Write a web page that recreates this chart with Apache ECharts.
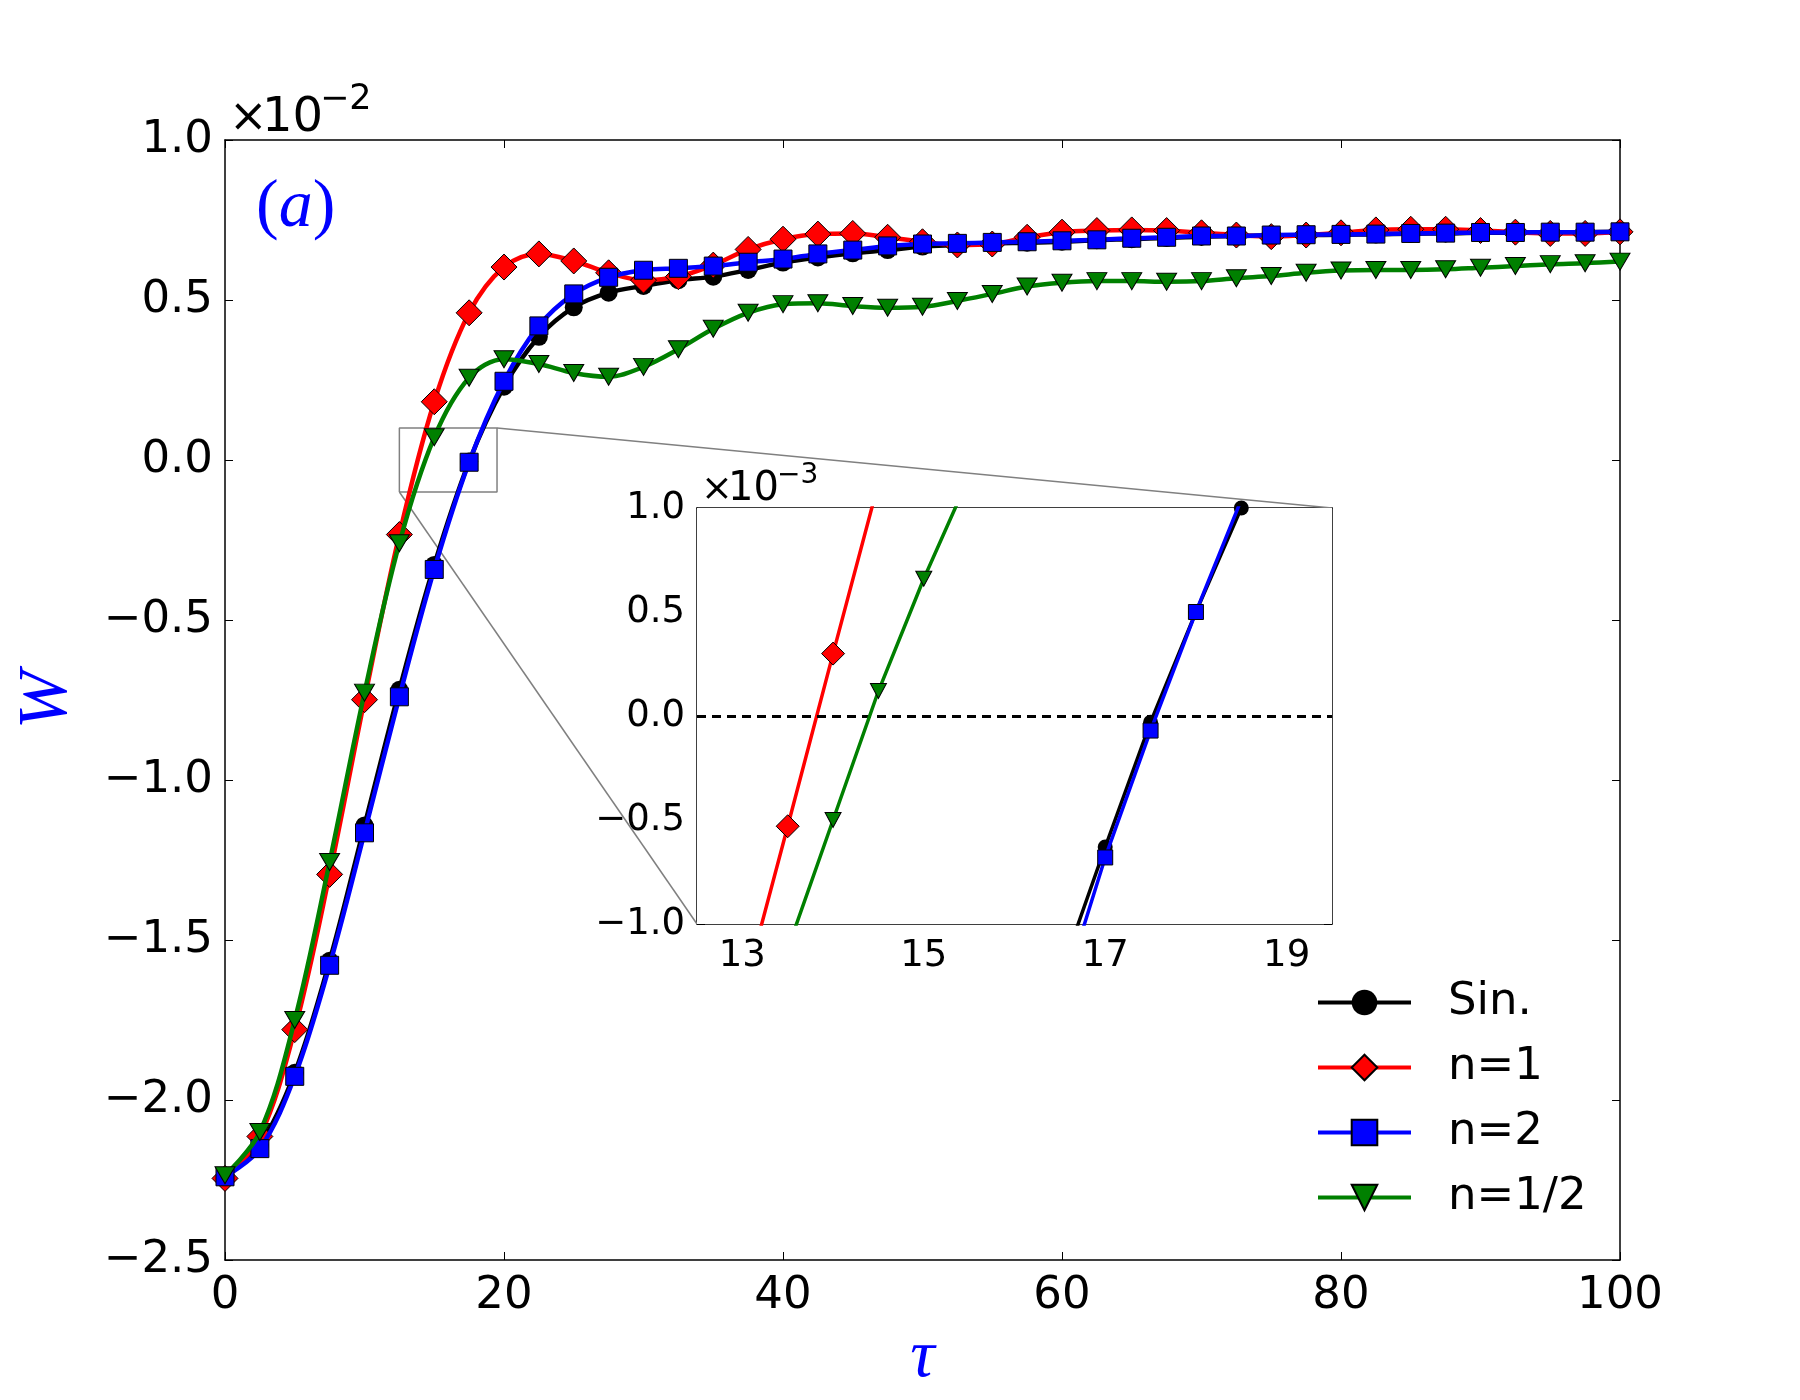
<!DOCTYPE html>
<html>
<head>
<meta charset="utf-8">
<script src="https://cdn.jsdelivr.net/npm/echarts@6/dist/echarts.min.js"></script>
<style>
  html, body { margin: 0; padding: 0; background: #fff; }
  #main { width: 1800px; height: 1400px; }
</style>
</head>
<body>
<div id="main"></div>
<script>
// time points carrying markers (every 2.5)
var tau = [0, 2.5, 5, 7.5, 10, 12.5, 15, 17.5, 20, 22.5, 25, 27.5, 30, 32.5, 35, 37.5, 40, 42.5, 45, 47.5,
  50, 52.5, 55, 57.5, 60, 62.5, 65, 67.5, 70, 72.5, 75, 77.5, 80, 82.5, 85, 87.5, 90, 92.5, 95, 97.5, 100]

// W in units of 1e-2
var wSin = [-2.24, -2.14, -1.915, -1.565, -1.142, -0.718, -0.328, -0.005, 0.229, 0.385, 0.477, 0.523, 0.544, 0.562,
  0.573, 0.594, 0.617, 0.633, 0.646, 0.656, 0.667, 0.672, 0.677, 0.679, 0.682, 0.687, 0.690, 0.694, 0.698, 0.700,
  0.702, 0.703, 0.704, 0.705, 0.707, 0.708, 0.710, 0.710, 0.711, 0.712, 0.713]
var wN1 = [-2.245, -2.114, -1.78, -1.295, -0.749, -0.233, 0.182, 0.46, 0.603, 0.644, 0.622, 0.585, 0.562, 0.573,
  0.609, 0.658, 0.69, 0.706, 0.708, 0.696, 0.682, 0.672, 0.675, 0.696, 0.712, 0.717, 0.719, 0.717, 0.71, 0.703,
  0.698, 0.703, 0.71, 0.719, 0.721, 0.721, 0.717, 0.712, 0.708, 0.708, 0.713]
var wN2 = [-2.24, -2.152, -1.926, -1.579, -1.165, -0.740, -0.342, -0.007, 0.246, 0.419, 0.519, 0.571, 0.593, 0.599,
  0.606, 0.618, 0.628, 0.644, 0.656, 0.669, 0.675, 0.677, 0.680, 0.682, 0.685, 0.688, 0.693, 0.696, 0.700, 0.700,
  0.703, 0.704, 0.705, 0.706, 0.708, 0.709, 0.711, 0.711, 0.712, 0.712, 0.713]
var wHalf = [-2.235, -2.10, -1.75, -1.256, -0.727, -0.26, 0.071, 0.257, 0.315, 0.30, 0.272, 0.26, 0.291, 0.346,
  0.41, 0.46, 0.487, 0.49, 0.481, 0.476, 0.479, 0.497, 0.519, 0.542, 0.554, 0.559, 0.559, 0.557, 0.559, 0.568,
  0.575, 0.585, 0.592, 0.594, 0.594, 0.596, 0.601, 0.606, 0.612, 0.615, 0.62]

// inset, W in units of 1e-3
var inTauSin = [16.5, 17, 17.5, 18, 18.5]
var inSin = [-1.25, -0.63, -0.03, 0.50, 1.0]
var inTauN1 = [13, 13.5, 14, 14.5]
var inN1 = [-1.35, -0.53, 0.30, 1.12]
var inTauN2 = [16.5, 17, 17.5, 18, 18.5]
var inN2 = [-1.38, -0.68, -0.07, 0.50, 1.04]
var inTauHalf = [13.5, 14, 14.5, 15, 15.5]
var inHalf = [-1.12, -0.50, 0.12, 0.66, 1.15]

var insetX = [12.5, 19.5]
var insetY = [-1.0, 1.0]
var insetXTicks = [13, 15, 17, 19]

var names = ['Sin.', 'n=1', 'n=2', 'n=1/2']
var colors = ['#000000', '#ff0000', '#0000ff', '#008000']
var symbols = ['circle', 'diamond', 'rect', 'triangle']

function pairs(xs, ys) {
    return xs.map(function (x, i) { return [x, ys[i]] })
}
function fmt(v) {
    return (v < 0 ? '\u2212' : '') + Math.abs(v).toFixed(1)
}

var font = 'DejaVu Sans'
var axisLineStyle = { color: '#000', width: 1.5 }

function xAx(grid, pos, min, max, labels, ticks, size) {
    var a = {
        type: 'value', gridIndex: grid, position: pos, min: min, max: max,
        axisLine: { show: true, onZero: false, lineStyle: axisLineStyle },
        axisTick: { show: true, inside: true, length: 8, lineStyle: { color: '#000', width: 1 } },
        axisLabel: { show: labels, fontSize: size, fontFamily: font, color: '#000', margin: 14 },
        splitLine: { show: false }
    }
    if (ticks) {
        a.axisTick.customValues = ticks
        a.axisLabel.customValues = ticks
    } else {
        a.interval = 20
    }
    return a
}
function yAx(grid, pos, min, max, labels, size) {
    return {
        type: 'value', gridIndex: grid, position: pos, min: min, max: max, interval: 0.5,
        axisLine: { show: true, onZero: false, lineStyle: axisLineStyle },
        axisTick: { show: true, inside: true, length: 8, lineStyle: { color: '#000', width: 1 } },
        axisLabel: { show: labels, fontSize: size, fontFamily: font, color: '#000', margin: 12, formatter: fmt },
        splitLine: { show: false }
    }
}

var mainData = [wSin, wN1, wN2, wHalf]
var inData = [pairs(inTauSin, inSin), pairs(inTauN1, inN1), pairs(inTauN2, inN2), pairs(inTauHalf, inHalf)]
var mainSizes = [18, 26, 18, [20, 17]]
var inSizes = [15, 23, 15, [16, 15]]

var series = []
// zoom box on main axes
series.push({
    type: 'line', xAxisIndex: 0, yAxisIndex: 0, silent: true, symbol: 'none', z: 1,
    lineStyle: { color: '#808080', width: 1.5 },
    data: [[insetX[0], insetY[0] / 10], [insetX[1], insetY[0] / 10], [insetX[1], insetY[1] / 10],
        [insetX[0], insetY[1] / 10], [insetX[0], insetY[0] / 10]]
})
names.forEach(function (n, i) {
    series.push({
        name: n, type: 'line', xAxisIndex: 0, yAxisIndex: 0,
        data: pairs(tau, mainData[i]), smooth: 0.35,
        symbol: symbols[i], symbolSize: mainSizes[i], symbolRotate: i === 3 ? 180 : 0,
        showAllSymbol: true,
        lineStyle: { color: colors[i], width: 4.5 },
        itemStyle: { color: colors[i], borderColor: '#000', borderWidth: i === 0 ? 0 : 1 },
        z: 2 + i
    })
})
names.forEach(function (n, i) {
    var s = {
        name: n, type: 'line', xAxisIndex: 2, yAxisIndex: 2,
        data: inData[i],
        symbol: symbols[i], symbolSize: inSizes[i], symbolRotate: i === 3 ? 180 : 0,
        showAllSymbol: true, clip: true,
        lineStyle: { color: colors[i], width: 3.5 },
        itemStyle: { color: colors[i], borderColor: '#000', borderWidth: i === 0 ? 0 : 1 },
        z: 3 + i
    }
    if (i === 0) {
        s.markLine = {
            silent: true, symbol: 'none', label: { show: false }, animation: false,
            lineStyle: { type: [9, 6], color: '#000', width: 3 },
            data: [{ yAxis: 0 }]
        }
    }
    series.push(s)
})

var chart = echarts.init(document.getElementById('main'))
var option = {
    animation: false,
    backgroundColor: '#fff',
    grid: [
        { left: 225, top: 140, width: 1395, height: 1120, show: false },
        { left: 697, top: 508, width: 635, height: 416, show: true, backgroundColor: '#fff', borderWidth: 0, z: 3 }
    ],
    xAxis: [
        Object.assign(xAx(0, 'bottom', 0, 100, true, null, 45), {
            name: '\u03c4', nameLocation: 'middle', nameGap: 56,
            nameTextStyle: { fontSize: 68, fontStyle: 'italic', fontFamily: 'Liberation Serif', color: '#0000ff' }
        }),
        xAx(0, 'top', 0, 100, false, null, 45),
        xAx(1, 'bottom', insetX[0], insetX[1], true, insetXTicks, 37),
        xAx(1, 'top', insetX[0], insetX[1], false, insetXTicks, 37)
    ],
    yAxis: [
        Object.assign(yAx(0, 'left', -2.5, 1.0, true, 45), {
            name: 'W', nameLocation: 'middle', nameGap: 142, nameRotate: 90,
            nameTextStyle: { fontSize: 70, fontStyle: 'italic', fontFamily: 'Liberation Serif', color: '#0000ff' }
        }),
        yAx(0, 'right', -2.5, 1.0, false, 45),
        yAx(1, 'left', insetY[0], insetY[1], true, 37),
        yAx(1, 'right', insetY[0], insetY[1], false, 37)
    ],
    legend: {
        data: names, orient: 'vertical', left: 1316, top: 980, padding: 0,
        itemWidth: 93, itemHeight: 32, itemGap: 20,
        lineStyle: { width: 4 },
        textStyle: { fontSize: 45, fontFamily: font, color: '#000', lineHeight: 45, padding: [0, 0, 0, 32] }
    },
    series: series
}
chart.setOption(option)

// connectors from the zoom box to the inset corners, placed through the axes
var a1 = chart.convertToPixel({ xAxisIndex: 0, yAxisIndex: 0 }, [insetX[1], insetY[1] / 10])
var b1 = chart.convertToPixel({ xAxisIndex: 2, yAxisIndex: 2 }, [insetX[1], insetY[1]])
var a2 = chart.convertToPixel({ xAxisIndex: 0, yAxisIndex: 0 }, [insetX[0], insetY[0] / 10])
var b2 = chart.convertToPixel({ xAxisIndex: 2, yAxisIndex: 2 }, [insetX[0], insetY[0]])

chart.setOption({
    graphic: [
        { type: 'line', z: 1, silent: true, shape: { x1: a1[0], y1: a1[1], x2: b1[0], y2: b1[1] }, style: { stroke: '#808080', lineWidth: 1.5 } },
        { type: 'line', z: 1, silent: true, shape: { x1: a2[0], y1: a2[1], x2: b2[0], y2: b2[1] }, style: { stroke: '#808080', lineWidth: 1.5 } },
        { type: 'text', x: 229, y: 119, style: { text: '\u00d7', fontSize: 46, fontFamily: font, fill: '#000', textVerticalAlign: 'middle' } },
        { type: 'text', x: 262, y: 119, style: { text: '10', fontSize: 48, fontFamily: font, fill: '#000', textVerticalAlign: 'middle' } },
        { type: 'text', x: 320, y: 100, style: { text: '\u22122', fontSize: 35, fontFamily: font, fill: '#000', textVerticalAlign: 'middle' } },
        { type: 'text', x: 701, y: 490, z: 10, style: { text: '\u00d7', fontSize: 38, fontFamily: font, fill: '#000', textVerticalAlign: 'middle' } },
        { type: 'text', x: 728, y: 490, z: 10, style: { text: '10', fontSize: 40, fontFamily: font, fill: '#000', textVerticalAlign: 'middle' } },
        { type: 'text', x: 777, y: 476, z: 10, style: { text: '\u22123', fontSize: 28, fontFamily: font, fill: '#000', textVerticalAlign: 'middle' } },
        {
            type: 'text', x: 256, y: 208,
            style: {
                text: '{p|(}{i|a}{p|)}', fill: '#0000ff', textVerticalAlign: 'middle',
                rich: {
                    p: { fontSize: 68, fontFamily: 'Liberation Serif', fill: '#0000ff' },
                    i: { fontSize: 68, fontFamily: 'Liberation Serif', fontStyle: 'italic', fill: '#0000ff' }
                }
            }
        }
    ]
})
</script>
</body>
</html>
